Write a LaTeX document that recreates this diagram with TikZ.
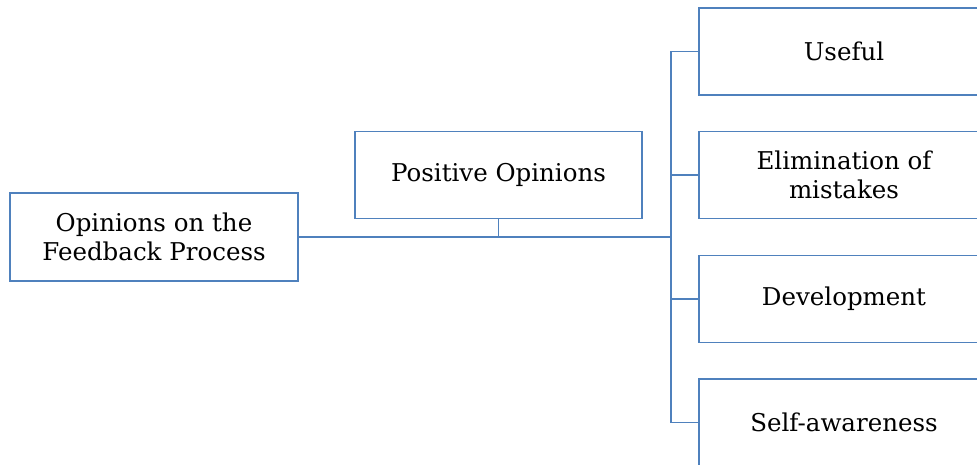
\documentclass[tikz,border=0pt]{standalone}
\usepackage{fontspec}
\setmainfont{DejaVu Serif}
\definecolor{boxblue}{RGB}{79,129,189}
\begin{document}
\begin{tikzpicture}[x=1pt,y=-1pt,
  box/.style={draw=boxblue,line width=1.8pt,fill=white,rectangle,align=center,
    font=\fontsize{24.5}{29.5}\selectfont,inner sep=0pt},
  conn/.style={draw=boxblue,line width=1.8pt}]
\useasboundingbox (0,0) rectangle (977,464);
\clip (0,0) rectangle (977,464);
\node[box,minimum width=288pt,minimum height=88pt] (root) at (154,237) {Opinions on the\\Feedback Process};
\node[box,minimum width=287pt,minimum height=87pt] (pos) at (498.5,175) {Positive Opinions};
\node[box,minimum width=290pt,minimum height=87pt] (u) at (844,51.5) {Useful};
\node[box,minimum width=290pt,minimum height=87pt] (e) at (844,175) {Elimination of\\mistakes};
\node[box,minimum width=290pt,minimum height=87pt] (d) at (844,299) {Development};
\node[box,minimum width=290pt,minimum height=87pt] (s) at (844,422.5) {Self-awareness};
\coordinate (j) at (671,237);
\draw[conn] (root.east) -- (j);
\draw[conn] (pos.south) -- (pos.south |- j);
\draw[conn] (u.west) -| (j);
\draw[conn] (e.west) -| (j);
\draw[conn] (d.west) -| (j);
\draw[conn] (s.west) -| (j);
\end{tikzpicture}
\end{document}
